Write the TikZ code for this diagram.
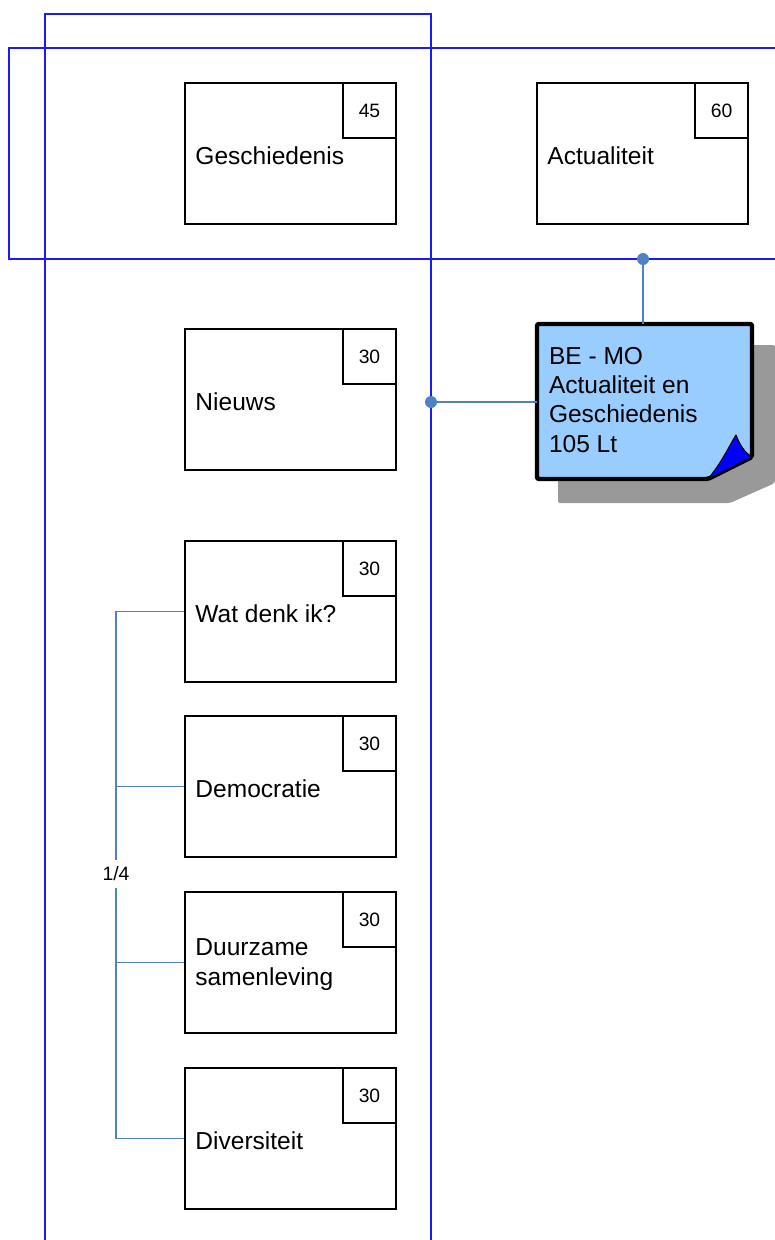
\documentclass[tikz,border=0pt]{standalone}
\usepackage{fontspec}
\setmainfont{Liberation Sans}
\usepackage{tikz}
\usetikzlibrary{positioning}
\definecolor{frameblue}{RGB}{26,26,255}
\definecolor{linkblue}{RGB}{79,129,199}
\definecolor{notefill}{RGB}{153,204,255}
\definecolor{shadowgray}{RGB}{153,153,153}
\tikzstyle{lesbox}=[draw=black,line width=1.2pt,minimum width=158.25pt,minimum height=105.75pt,inner sep=0pt]
\tikzstyle{ltbox}=[draw=black,line width=1.2pt,minimum width=39.75pt,minimum height=41.25pt,inner sep=0pt,anchor=north east,font=\fontsize{14.5}{17}\selectfont]
\tikzstyle{lestext}=[anchor=west,align=left,inner sep=0pt,font=\fontsize{18.4}{22}\selectfont]
\tikzstyle{frame}=[draw=frameblue,line width=1.5pt]
\tikzstyle{link}=[draw=linkblue,line width=0.8pt]

\begin{document}
\begin{tikzpicture}[x=0.75pt,y=-0.75pt]
\useasboundingbox (0,0) rectangle (775,1240);
% blauwe kaders
\draw[frame] (45,1240) |- (431,14) -- (431,1240);
\draw[frame] (775,48) -| (9,259) -- (775,259);
% lessen
\node[lesbox] (gesch) at (290.5,153.5) {};
\node[ltbox] (geschlt) at (gesch.north east) {45};
\node[lestext] (geschlbl) at ([xshift=8.25pt,yshift=-1.5pt]gesch.west) {Geschiedenis};
\node[lesbox] (actu) at (642.5,153.5) {};
\node[ltbox] (actult) at (actu.north east) {60};
\node[lestext] (actulbl) at ([xshift=8.25pt,yshift=-1.5pt]actu.west) {Actualiteit};
\foreach \n/\y/\txt in {nieuws/399.5/Nieuws,wat/611.5/Wat denk ik?,demo/786.5/Democratie,duur/962.5/{Duurzame\\samenleving},div/1138.5/Diversiteit}{
  \node[lesbox] (\n) at (290.5,\y) {};
  \node[ltbox] (\n lt) at (\n.north east) {30};
  \node[lestext] (\n lbl) at ([xshift=8.25pt,yshift=-1.5pt]\n.west) {\txt};
}
% notitie
\fill[shadowgray,rounded corners=1.5pt] (558,345) -- (775,345) -- (775,483) -- (730,503) -- (558,503) -- cycle;
\draw[line width=3.3pt,fill=notefill,rounded corners=1.5pt] (537,324) -- (752,324) -- (752,457) -- (708,479) -- (537,479) -- cycle;
\draw[fill=blue,line width=0.8pt,line join=round] (708,479) .. controls (722,462) and (728,448) .. (736,435) .. controls (740,445) and (744,452) .. (752,457) -- cycle;
\node[minimum width=161.25pt,minimum height=116.25pt,inner sep=0pt] (note) at (644.5,401.5) {};
\node[lestext,anchor=north west] (notetxt) at ([xshift=9pt,yshift=-17.25pt]note.north west) {BE - MO\\Actualiteit en\\Geschiedenis\\105 Lt};
% verbindingen
\coordinate (dtop) at (643,259);
\coordinate (dleft) at (431,402);
\draw[link] (dtop) -- (dtop |- note.north);
\draw[link] (dleft) -- (dleft -| note.west);
\fill[linkblue] (dtop) circle[radius=4.5pt];
\fill[linkblue] (dleft) circle[radius=4.5pt];
% keuze 1/4
\node[inner sep=5pt,font=\fontsize{14.5}{17}\selectfont] (keuze) at (116,874) {1/4};
\draw[link] (wat.west) -| (keuze.north);
\draw[link] (keuze.south) |- (div.west);
\draw[link] (demo.west) -- (demo.west -| keuze);
\draw[link] (duur.west) -- (duur.west -| keuze);
\end{tikzpicture}
\end{document}
